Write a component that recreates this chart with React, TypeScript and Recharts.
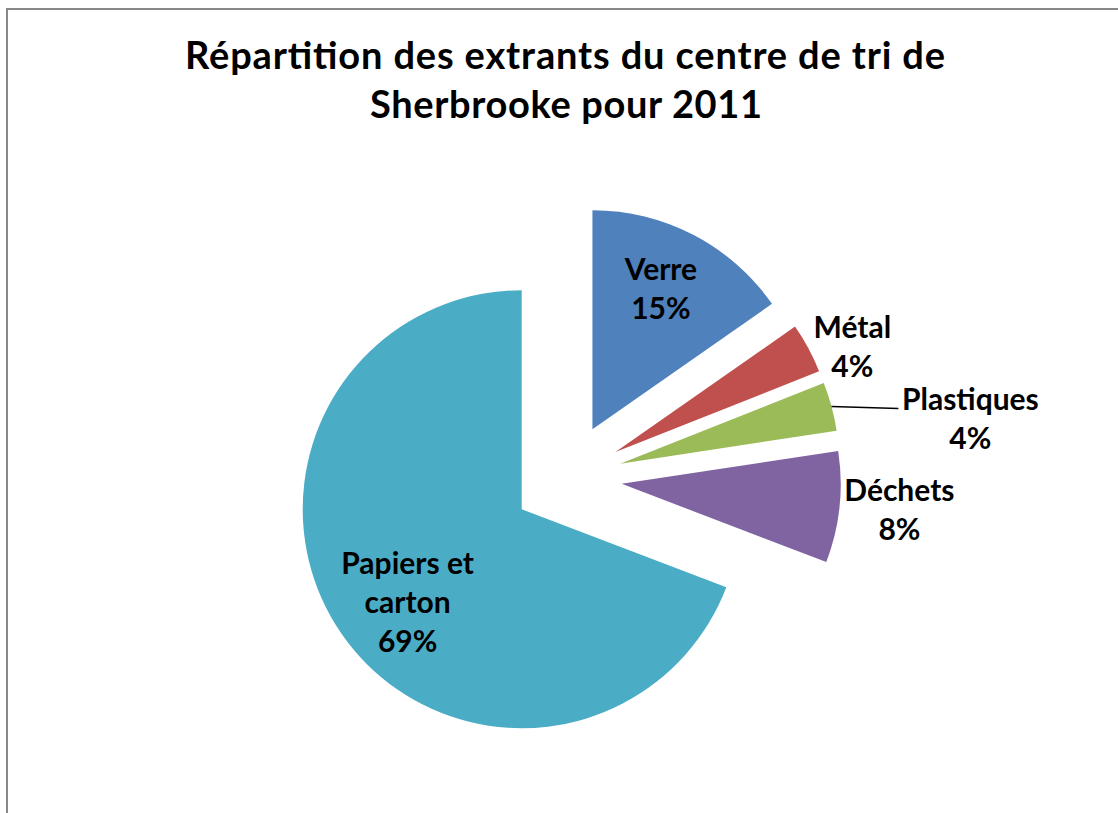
import React from "react";
import { PieChart, Pie, Cell, Sector } from "recharts";

// Share of outputs (%)
const categories = ["Verre", "Métal", "Plastiques", "Déchets", "Papiers et carton"];
const shares = [15.3, 3.7, 3.6, 8.2, 69.2];
const pctLabels = ["15%", "4%", "4%", "8%", "69%"];
const labelText = [["Verre"], ["Métal"], ["Plastiques"], ["Déchets"], ["Papiers et", "carton"]];

const colors = ["#4F81BD", "#C0504D", "#9BBB59", "#8064A2", "#4BACC6"];

// label placement: distance from slice tip (px) and clockwise angle nudge (deg)
const labelDist = [156, 259, 353, 279, 148];
const labelNudge = [-1.5, 4.4, 8, -0.6, -5];
const hasLeader = [false, false, true, false, false];

const data = categories.map((name, i) => ({ name, value: shares[i] }));

const RAD = Math.PI / 180;
const EXPLODE = 55;
const FONT = "Lato, 'Open Sans', sans-serif";

const tipOf = (cx: number, cy: number, mid: number) => ({
  x: cx + EXPLODE * Math.cos(mid * RAD),
  y: cy - EXPLODE * Math.sin(mid * RAD),
});

const renderSlice = (props: any) => {
  const { cx, cy, midAngle } = props;
  const t = tipOf(cx, cy, midAngle);
  return <Sector {...props} cx={t.x} cy={t.y} />;
};

const renderLabel = (props: any) => {
  const { cx, cy, midAngle, outerRadius, index } = props;
  const t = tipOf(cx, cy, midAngle);
  const a = midAngle - labelNudge[index];
  const d = labelDist[index];
  const lx = t.x + d * Math.cos(a * RAD);
  const ly = t.y - d * Math.sin(a * RAD);
  const lines = [...labelText[index], pctLabels[index]];
  const step = 39;
  const ox = t.x + outerRadius * Math.cos(midAngle * RAD);
  const oy = t.y - outerRadius * Math.sin(midAngle * RAD);
  return (
    <g key={`lbl-${index}`}>
      {hasLeader[index] && (
        <line x1={ox} y1={oy} x2={lx - 72} y2={oy + 2} stroke="#000" strokeWidth={1.5} />
      )}
      {lines.map((s, k) => (
        <text
          key={k}
          x={lx}
          y={ly + (k - (lines.length - 1) / 2) * step + 10}
          textAnchor="middle"
          fontFamily={FONT}
          fontWeight={700}
          fontSize={30}
          fill="#000"
        >
          {s}
        </text>
      ))}
    </g>
  );
};

export default function App() {
  return (
    <div style={{ position: "absolute", left: 0, top: 0, width: 1118, height: 813, background: "#fff", overflow: "hidden" }}>
      <svg width={1118} height={813} style={{ position: "absolute", left: 0, top: 0 }}>
        <line x1={6} y1={9} x2={1118} y2={9} stroke="#888" strokeWidth={2} />
        <line x1={7} y1={8} x2={7} y2={813} stroke="#888" strokeWidth={2} />
        <text x={565} y={69} textAnchor="middle" fontFamily={FONT} fontWeight={700} fontSize={38} textLength={760} lengthAdjust="spacing" fill="#000">
          Répartition des extrants du centre de tri de
        </text>
        <text x={566} y={118} textAnchor="middle" fontFamily={FONT} fontWeight={700} fontSize={38} textLength={392} lengthAdjust="spacing" fill="#000">
          Sherbrooke pour 2011
        </text>
      </svg>
      <div style={{ position: "absolute", left: 0, top: 0 }}>
        <PieChart width={1118} height={813} margin={{ top: 0, right: 0, bottom: 0, left: 0 }}>
          <Pie
            data={data}
            dataKey="value"
            nameKey="name"
            cx={567}
            cy={478}
            outerRadius={219}
            startAngle={90}
            endAngle={-270}
            stroke="none"
            isAnimationActive={false}
            labelLine={false}
            label={renderLabel}
            shape={renderSlice}
          >
            {data.map((d, i) => (
              <Cell key={d.name} fill={colors[i]} />
            ))}
          </Pie>
        </PieChart>
      </div>
    </div>
  );
}
